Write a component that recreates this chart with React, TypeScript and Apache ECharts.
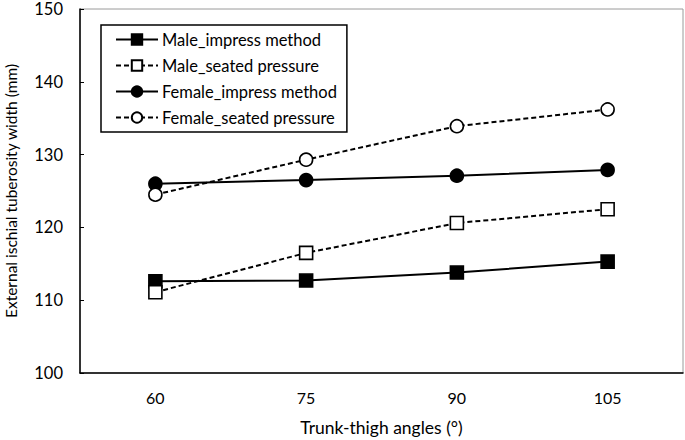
import React, { useEffect, useRef } from "react";
import * as echarts from "echarts";

const categories = ["60", "75", "90", "105"];
const maleImpress = [112.6, 112.7, 113.8, 115.3];
const maleSeated = [111.1, 116.5, 120.6, 122.5];
const femaleImpress = [126.0, 126.5, 127.1, 127.9];
const femaleSeated = [124.5, 129.3, 133.9, 136.2];
const seriesNames = [
  "Male_impress method",
  "Male_seated pressure",
  "Female_impress method",
  "Female_seated pressure",
];

const FONT = "Lato";

export default function App() {
  const ref = useRef<HTMLDivElement>(null);
  useEffect(() => {
    if (!ref.current) return;
    const chart = echarts.init(ref.current, undefined, { renderer: "svg" });
    const mk = (name: string, data: number[], symbol: string, dashed: boolean, filled: boolean) => ({
      name,
      type: "line",
      data,
      symbol,
      symbolSize: 13,
      lineStyle: { color: "#000", width: 2, type: dashed ? [5, 3] : "solid" },
      itemStyle: {
        color: filled ? "#000" : "#fff",
        borderColor: "#000",
        borderWidth: 1.6,
      },
      emphasis: { disabled: true },
    });
    chart.setOption({
      animation: false,
      backgroundColor: "#fff",
      grid: {
        left: 80,
        right: 2,
        top: 9,
        bottom: 67,
        show: true,
        borderColor: "#9a9a9a",
        borderWidth: 1,
        outerBoundsMode: "none",
        containLabel: false,
      },
      legend: {
        orient: "vertical",
        left: 101,
        top: 25,
        padding: [6, 10, 6, 14],
        itemGap: 9,
        itemWidth: 42,
        itemHeight: 13,
        borderColor: "#000",
        borderWidth: 1.5,
        textStyle: { fontFamily: FONT, fontSize: 16.5, color: "#000", padding: [0, 0, 0, -1] },
        data: seriesNames,
      },
      xAxis: {
        type: "category",
        data: categories,
        boundaryGap: true,
        name: "Trunk-thigh angles (\u00b0)",
        nameLocation: "middle",
        nameGap: 45,
        nameTextStyle: { fontFamily: FONT, fontSize: 17.5, color: "#000" },
        axisLine: { lineStyle: { color: "#000", width: 1.5 } },
        axisTick: { alignWithLabel: true, inside: true, length: 4, lineStyle: { color: "#000" } },
        axisLabel: { fontFamily: FONT, fontSize: 16, color: "#000", margin: 16 },
        splitLine: { show: false },
      },
      yAxis: {
        type: "value",
        min: 100,
        max: 150,
        interval: 10,
        name: "External ischial tuberosity width (mm)",
        nameLocation: "middle",
        nameGap: 61,
        nameTextStyle: { fontFamily: FONT, fontSize: 15.5, color: "#000" },
        axisLine: { show: true, lineStyle: { color: "#000", width: 1.5 } },
        axisTick: { show: true, inside: true, length: 4, lineStyle: { color: "#000" } },
        axisLabel: { fontFamily: FONT, fontSize: 16.5, color: "#000", margin: 17 },
        splitLine: { show: false },
      },
      series: [
        mk(seriesNames[0], maleImpress, "rect", false, true),
        mk(seriesNames[1], maleSeated, "rect", true, false),
        mk(seriesNames[2], femaleImpress, "circle", false, true),
        mk(seriesNames[3], femaleSeated, "circle", true, false),
      ],
    });
    return () => chart.dispose();
  }, []);
  return <div ref={ref} style={{ width: 685, height: 440, position: "absolute", left: 0, top: 0 }} />;
}
